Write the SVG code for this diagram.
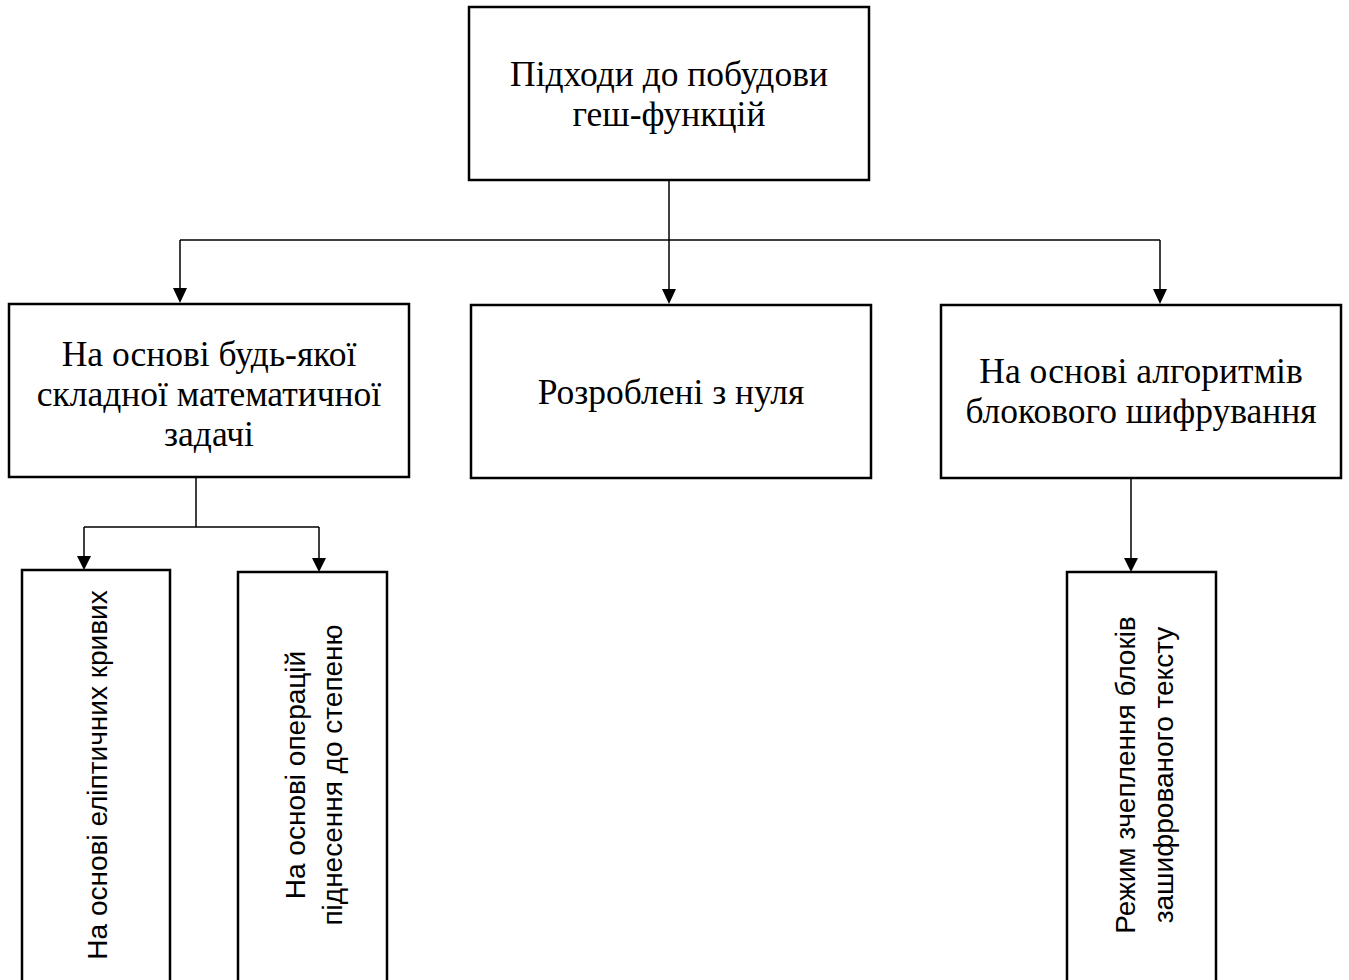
<svg xmlns="http://www.w3.org/2000/svg" width="1349" height="980" viewBox="0 0 1349 980">
<defs>
<style>
.box{fill:#fff;stroke:#000;stroke-width:2.5}
.ser{font-family:"Liberation Serif","Times New Roman",serif;font-size:35.5px;fill:#000;text-anchor:middle}
.san{font-family:"Liberation Sans",Arial,sans-serif;font-size:28px;fill:#000;text-anchor:middle}
.ln{fill:none;stroke:#000;stroke-width:1.5}
.ah{fill:#000}
</style>
</defs>
<rect width="1349" height="980" fill="#fff"/>
<g id="connectors">
<path class="ln" d="M669,180 V240 M180,240 H1160 M180,240 V292 M669,240 V292 M1160,240 V292"/>
<path class="ah" d="M173,288 L187,288 L180,303 Z M662,289 L676,289 L669,304 Z M1153,289 L1167,289 L1160,304 Z"/>
<path class="ln" d="M196,477 V527 M84,527 H319 M84,527 V560 M319,527 V562"/>
<path class="ah" d="M77,556 L91,556 L84,570 Z M312,558 L326,558 L319,572 Z"/>
<path class="ln" d="M1131,478 V562"/>
<path class="ah" d="M1124,558 L1138,558 L1131,572 Z"/>
</g>
<g id="n-root">
<rect class="box" x="469" y="7" width="400" height="173"/>
<text class="ser" x="669" y="86">Підходи до побудови</text>
<text class="ser" x="669" y="126">геш-функцій</text>
</g>
<g id="n-math">
<rect class="box" x="9" y="304" width="400" height="173"/>
<text class="ser" x="209" y="366">На основі будь-якої</text>
<text class="ser" x="209" y="406">складної математичної</text>
<text class="ser" x="209" y="446">задачі</text>
</g>
<g id="n-scratch">
<rect class="box" x="471" y="305" width="400" height="173"/>
<text class="ser" x="671" y="404">Розроблені з нуля</text>
</g>
<g id="n-block">
<rect class="box" x="941" y="305" width="400" height="173"/>
<text class="ser" x="1141" y="383">На основі алгоритмів</text>
<text class="ser" x="1141" y="423">блокового шифрування</text>
</g>
<g id="n-ecc">
<rect class="box" x="22" y="570" width="148" height="430"/>
<text class="san" transform="translate(107,775) rotate(-90)">На основі еліптичних кривих</text>
</g>
<g id="n-exp">
<rect class="box" x="238" y="572" width="149" height="430"/>
<text class="san" transform="translate(305,775) rotate(-90)">На основі операцій</text>
<text class="san" transform="translate(342,775) rotate(-90)">піднесення до степеню</text>
</g>
<g id="n-cbc">
<rect class="box" x="1067" y="572" width="149" height="430"/>
<text class="san" transform="translate(1135,775) rotate(-90)">Режим зчеплення блоків</text>
<text class="san" transform="translate(1173,775) rotate(-90)">зашифрованого тексту</text>
</g>
</svg>
